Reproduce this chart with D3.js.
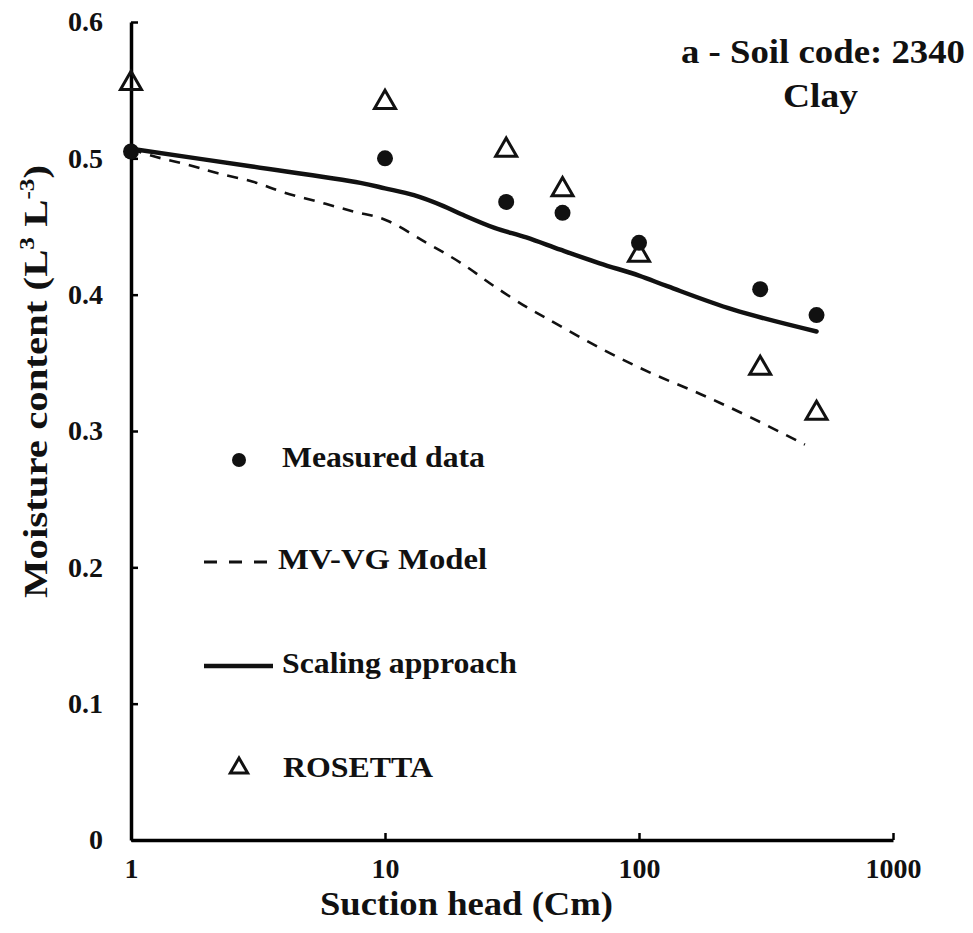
<!DOCTYPE html>
<html>
<head>
<meta charset="utf-8">
<script src="https://cdn.jsdelivr.net/npm/d3@7"></script>
<style>
  body { margin: 0; background: #fff; }
  svg text { font-family: "Liberation Serif", Tinos, "Times New Roman", serif !important; font-weight: bold !important; }
</style>
</head>
<body>
<div id="chart"></div>
<script>
// measured points
const measuredX = [1, 10, 30, 50, 100, 300, 500]
const measuredY = [0.505, 0.500, 0.468, 0.460, 0.438, 0.404, 0.385]

// ROSETTA predictions
const rosettaX = [1, 10, 30, 50, 100, 300, 500]
const rosettaY = [0.555, 0.541, 0.506, 0.477, 0.429, 0.346, 0.313]

// MV-VG model curve
const mvvgX = [1, 1.2, 1.7, 2.2, 3, 4, 5.5, 7.5, 10, 14.6, 20, 27, 36, 43, 70, 110, 175, 275, 450]
const mvvgY = [0.507, 0.502, 0.495, 0.489, 0.483, 0.475, 0.468, 0.461, 0.455, 0.438, 0.423, 0.406, 0.391, 0.383, 0.361, 0.343, 0.327, 0.310, 0.290]

// scaling approach curve
const scalingX = [1, 3, 8, 10, 13, 17, 20, 27, 36, 49, 70, 100, 130, 235, 500]
const scalingY = [0.507, 0.494, 0.482, 0.478, 0.473, 0.465, 0.459, 0.449, 0.442, 0.433, 0.423, 0.414, 0.406, 0.389, 0.373]

const xTicks = [1, 10, 100, 1000]
const yTicks = [0, 0.1, 0.2, 0.3, 0.4, 0.5, 0.6]

const width = 973, height = 933
const margin = {top: 22, right: 80, bottom: 93, left: 131}

const svg = d3.select("#chart").append("svg")
  .attr("width", width)
  .attr("height", height)

const x = d3.scaleLog()
  .domain([1, 1000])
  .range([margin.left, width - margin.right])

const y = d3.scaleLinear()
  .domain([0, 0.6])
  .range([height - margin.bottom, margin.top])

const xAxis = g => g
  .attr("transform", `translate(0,${y(0)})`)
  .call(d3.axisBottom(x).tickValues(xTicks).tickFormat(d3.format("d"))
    .tickSizeInner(-7).tickSizeOuter(0).tickPadding(18))
  .call(g => g.select(".domain").attr("stroke-width", 3.5))
  .call(g => g.selectAll(".tick line").attr("stroke-width", 2.5))
  .call(g => g.selectAll(".tick text").attr("font-size", 28))

const yAxis = g => g
  .attr("transform", `translate(${x(1)},0)`)
  .call(d3.axisLeft(y).tickValues(yTicks).tickFormat(d => d === 0 ? "0" : d3.format(".1f")(d))
    .tickSizeInner(-7).tickSizeOuter(0).tickPadding(28))
  .call(g => g.select(".domain").attr("stroke-width", 3.5))
  .call(g => g.selectAll(".tick line").attr("stroke-width", 2.5))
  .call(g => g.selectAll(".tick text").attr("font-size", 28))

svg.append("g").call(xAxis).attr("font-family", null)
svg.append("g").call(yAxis).attr("font-family", null)

// axis titles
svg.append("text")
  .attr("x", 320).attr("y", 915)
  .attr("font-size", 34)
  .attr("textLength", 293)
  .attr("lengthAdjust", "spacingAndGlyphs")
  .text("Suction head (Cm)")

const yTitle = svg.append("text")
  .attr("transform", `translate(47,598) rotate(-90)`)
  .attr("font-size", 34)
  .attr("textLength", 433)
  .attr("lengthAdjust", "spacingAndGlyphs")
yTitle.append("tspan").text("Moisture content (L")
yTitle.append("tspan").attr("font-size", 21).attr("dy", -13).text("3")
yTitle.append("tspan").attr("dy", 13).text(" L")
yTitle.append("tspan").attr("font-size", 21).attr("dy", -13).text("-3")
yTitle.append("tspan").attr("dy", 13).text(")")

// curves
const line = d3.line()
  .curve(d3.curveCatmullRom.alpha(0.5))
  .x(d => x(d[0]))
  .y(d => y(d[1]))

svg.append("path")
  .datum(d3.zip(mvvgX, mvvgY))
  .attr("fill", "none")
  .attr("stroke", "#111")
  .attr("stroke-width", 2.6)
  .attr("stroke-dasharray", "11,9")
  .attr("d", line)

svg.append("path")
  .datum(d3.zip(scalingX, scalingY))
  .attr("fill", "none")
  .attr("stroke", "#111")
  .attr("stroke-width", 4.5)
  .attr("stroke-linecap", "round")
  .attr("d", line)

const triangle = d3.symbol().type(d3.symbolTriangle).size(190)

svg.append("g")
  .selectAll("path")
  .data(d3.zip(rosettaX, rosettaY))
  .join("path")
    .attr("transform", d => `translate(${x(d[0])},${y(d[1])})`)
    .attr("d", triangle)
    .attr("fill", "none")
    .attr("stroke", "#111")
    .attr("stroke-width", 3)

svg.append("g")
  .selectAll("circle")
  .data(d3.zip(measuredX, measuredY))
  .join("circle")
    .attr("cx", d => x(d[0]))
    .attr("cy", d => y(d[1]))
    .attr("r", 8)
    .attr("fill", "#111")

// title
svg.append("text")
  .attr("x", 681).attr("y", 63)
  .attr("font-size", 33)
  .attr("textLength", 284)
  .attr("lengthAdjust", "spacingAndGlyphs")
  .text("a - Soil code: 2340")

svg.append("text")
  .attr("x", 783).attr("y", 107)
  .attr("font-size", 33)
  .attr("textLength", 75)
  .attr("lengthAdjust", "spacingAndGlyphs")
  .text("Clay")

// legend
const legend = svg.append("g")
const legendRows = [
  {label: "Measured data", kind: "dot", y: 460, ty: 467, tx: 282, w: 203},
  {label: "MV-VG Model", kind: "dash", y: 562, ty: 569, tx: 278, w: 209},
  {label: "Scaling approach", kind: "solid", y: 666, ty: 673, tx: 282, w: 235},
  {label: "ROSETTA", kind: "tri", y: 768, ty: 777, tx: 283, w: 150}
]

legendRows.forEach(r => {
  if (r.kind === "dot") {
    legend.append("circle").attr("cx", 239).attr("cy", r.y).attr("r", 7).attr("fill", "#111")
  } else if (r.kind === "tri") {
    legend.append("path").attr("transform", `translate(239,${r.y})`)
      .attr("d", d3.symbol().type(d3.symbolTriangle).size(130))
      .attr("fill", "none").attr("stroke", "#111").attr("stroke-width", 3)
  } else {
    legend.append("line")
      .attr("x1", 204).attr("x2", 273)
      .attr("y1", r.y).attr("y2", r.y)
      .attr("stroke", "#111")
      .attr("stroke-width", r.kind === "solid" ? 4.5 : 2.8)
      .attr("stroke-dasharray", r.kind === "dash" ? "13,12" : null)
  }
  legend.append("text")
    .attr("x", r.tx).attr("y", r.ty)
    .attr("font-size", 30)
    .attr("textLength", r.w)
    .attr("lengthAdjust", "spacingAndGlyphs")
    .text(r.label)
})

svg.selectAll("text").attr("fill", "#111")
</script>
</body>
</html>
